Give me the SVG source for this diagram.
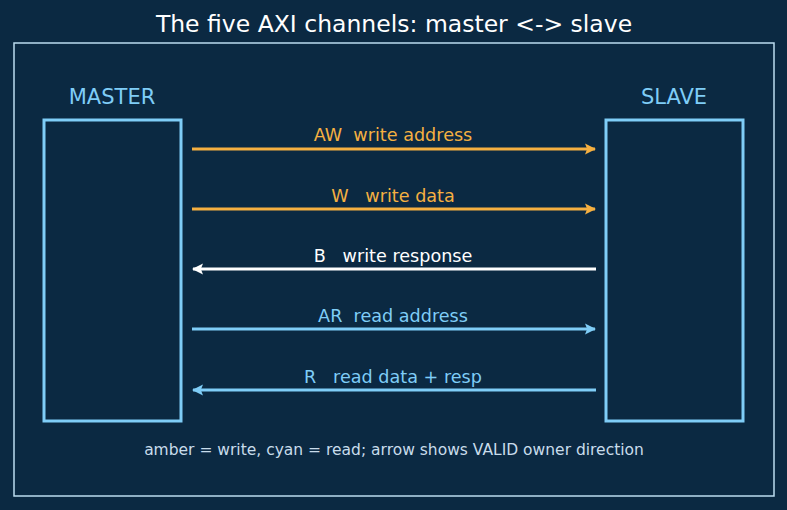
<svg xmlns="http://www.w3.org/2000/svg" width="787" height="510" viewBox="0 0 787 510">
<defs>
<style>
text{font-family:"DejaVu Sans","Liberation Sans",sans-serif;text-anchor:middle}
.box{fill:none;stroke:#7fcdf7;stroke-width:3}
.lbl{font-size:17.6px}
.amber{stroke:#f5b041;fill:#f5b041}
.cyan{stroke:#7fcdf7;fill:#7fcdf7}
.white{stroke:#ffffff;fill:#ffffff}
.ln{stroke-width:2.8;fill:none}
</style>
<marker id="ma" viewBox="0 0 10 10" refX="9" refY="5" markerWidth="4" markerHeight="4" orient="auto-start-reverse"><path d="M0,0 L10,5 L0,10 L2,5 z" fill="#f5b041"/></marker>
<marker id="mc" viewBox="0 0 10 10" refX="9" refY="5" markerWidth="4" markerHeight="4" orient="auto-start-reverse"><path d="M0,0 L10,5 L0,10 L2,5 z" fill="#7fcdf7"/></marker>
<marker id="mw" viewBox="0 0 10 10" refX="9" refY="5" markerWidth="4" markerHeight="4" orient="auto-start-reverse"><path d="M0,0 L10,5 L0,10 L2,5 z" fill="#ffffff"/></marker>
</defs>
<rect width="787" height="510" fill="#0b2942"/>
<text x="394" y="32" font-size="23.5" fill="#ffffff">The five AXI channels: master &lt;-&gt; slave</text>
<rect x="14" y="43" width="760" height="453" fill="none" stroke="#bcdcef" stroke-width="1.5"/>
<g id="master">
<text x="112" y="104" font-size="21" fill="#7fcdf7">MASTER</text>
<rect class="box" x="44" y="120" width="137" height="301"/>
</g>
<g id="slave">
<text x="674" y="104" font-size="21" fill="#7fcdf7">SLAVE</text>
<rect class="box" x="606" y="120" width="137" height="301"/>
</g>
<g id="connectors">
<line class="ln amber" x1="192" y1="149" x2="595" y2="149" marker-end="url(#ma)"/>
<text class="lbl" x="393" y="141" fill="#f5b041" stroke="none" xml:space="preserve">AW  write address</text>
<line class="ln amber" x1="192" y1="209" x2="595" y2="209" marker-end="url(#ma)"/>
<text class="lbl" x="393" y="202" fill="#f5b041" stroke="none" xml:space="preserve">W   write data</text>
<line class="ln white" x1="596" y1="269" x2="193" y2="269" marker-end="url(#mw)"/>
<text class="lbl" x="393" y="262" fill="#ffffff" stroke="none" xml:space="preserve">B   write response</text>
<line class="ln cyan" x1="192" y1="329" x2="595" y2="329" marker-end="url(#mc)"/>
<text class="lbl" x="393" y="322" fill="#7fcdf7" stroke="none" xml:space="preserve">AR  read address</text>
<line class="ln cyan" x1="596" y1="390" x2="193" y2="390" marker-end="url(#mc)"/>
<text class="lbl" x="393" y="383" fill="#7fcdf7" stroke="none" xml:space="preserve">R   read data + resp</text>
</g>
<text x="394" y="455" font-size="15.5" fill="#c8dceb">amber = write, cyan = read; arrow shows VALID owner direction</text>
</svg>
